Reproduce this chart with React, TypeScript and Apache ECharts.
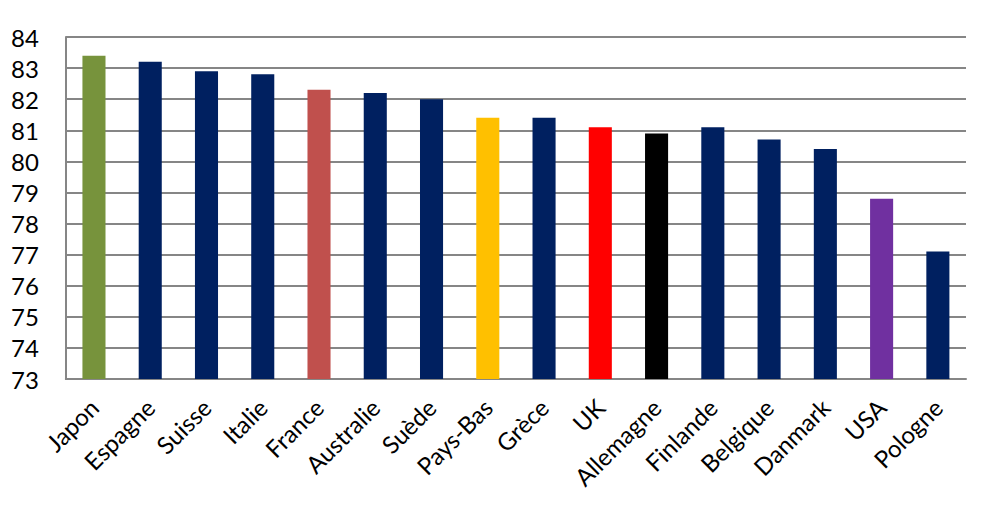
import React, { useEffect, useRef } from "react";
import * as echarts from "echarts";

const countries = ["Japon", "Espagne", "Suisse", "Italie", "France", "Australie", "Suède", "Pays-Bas", "Grèce", "UK", "Allemagne", "Finlande", "Belgique", "Danmark", "USA", "Pologne"];
const lifeExpectancy = [83.4, 83.2, 82.9, 82.8, 82.3, 82.2, 82.0, 81.4, 81.4, 81.1, 80.9, 81.1, 80.7, 80.4, 78.8, 77.1];
const barColors = ["#77933C", "#002060", "#002060", "#002060", "#C0504D", "#002060", "#002060", "#FFC000", "#002060", "#FF0000", "#000000", "#002060", "#002060", "#002060", "#7030A0", "#002060"];
const yMin = 73;
const yMax = 84;

export default function App() {
  const ref = useRef<HTMLDivElement>(null);
  useEffect(() => {
    if (!ref.current) return;
    const chart = echarts.init(ref.current, null, { renderer: "svg" });
    chart.setOption({
      animation: false,
      grid: { left: 50, right: 12, top: 29, bottom: 130 },
      xAxis: {
        type: "category",
        data: countries,
        axisLine: { lineStyle: { color: "#868686", width: 2 } },
        axisTick: { show: false },
        axisLabel: {
          rotate: 45,
          interval: 0,
          margin: 24,
          fontSize: 24,
          color: "#000",
          fontFamily: "Lato",
        },
      },
      yAxis: {
        type: "value",
        min: yMin,
        max: yMax,
        interval: 1,
        axisLine: { show: true, lineStyle: { color: "#868686", width: 2 } },
        axisTick: { show: false },
        splitLine: { lineStyle: { color: "#868686", width: 2 } },
        axisLabel: { fontSize: 24, color: "#000", margin: 27, fontFamily: "Lato" },
      },
      series: [
        {
          type: "bar",
          barWidth: "41%",
          data: lifeExpectancy.map((v, i) => ({ value: v, itemStyle: { color: barColors[i] } })),
        },
      ],
    });
    return () => chart.dispose();
  }, []);
  return <div ref={ref} style={{ width: 970, height: 501 }} />;
}
